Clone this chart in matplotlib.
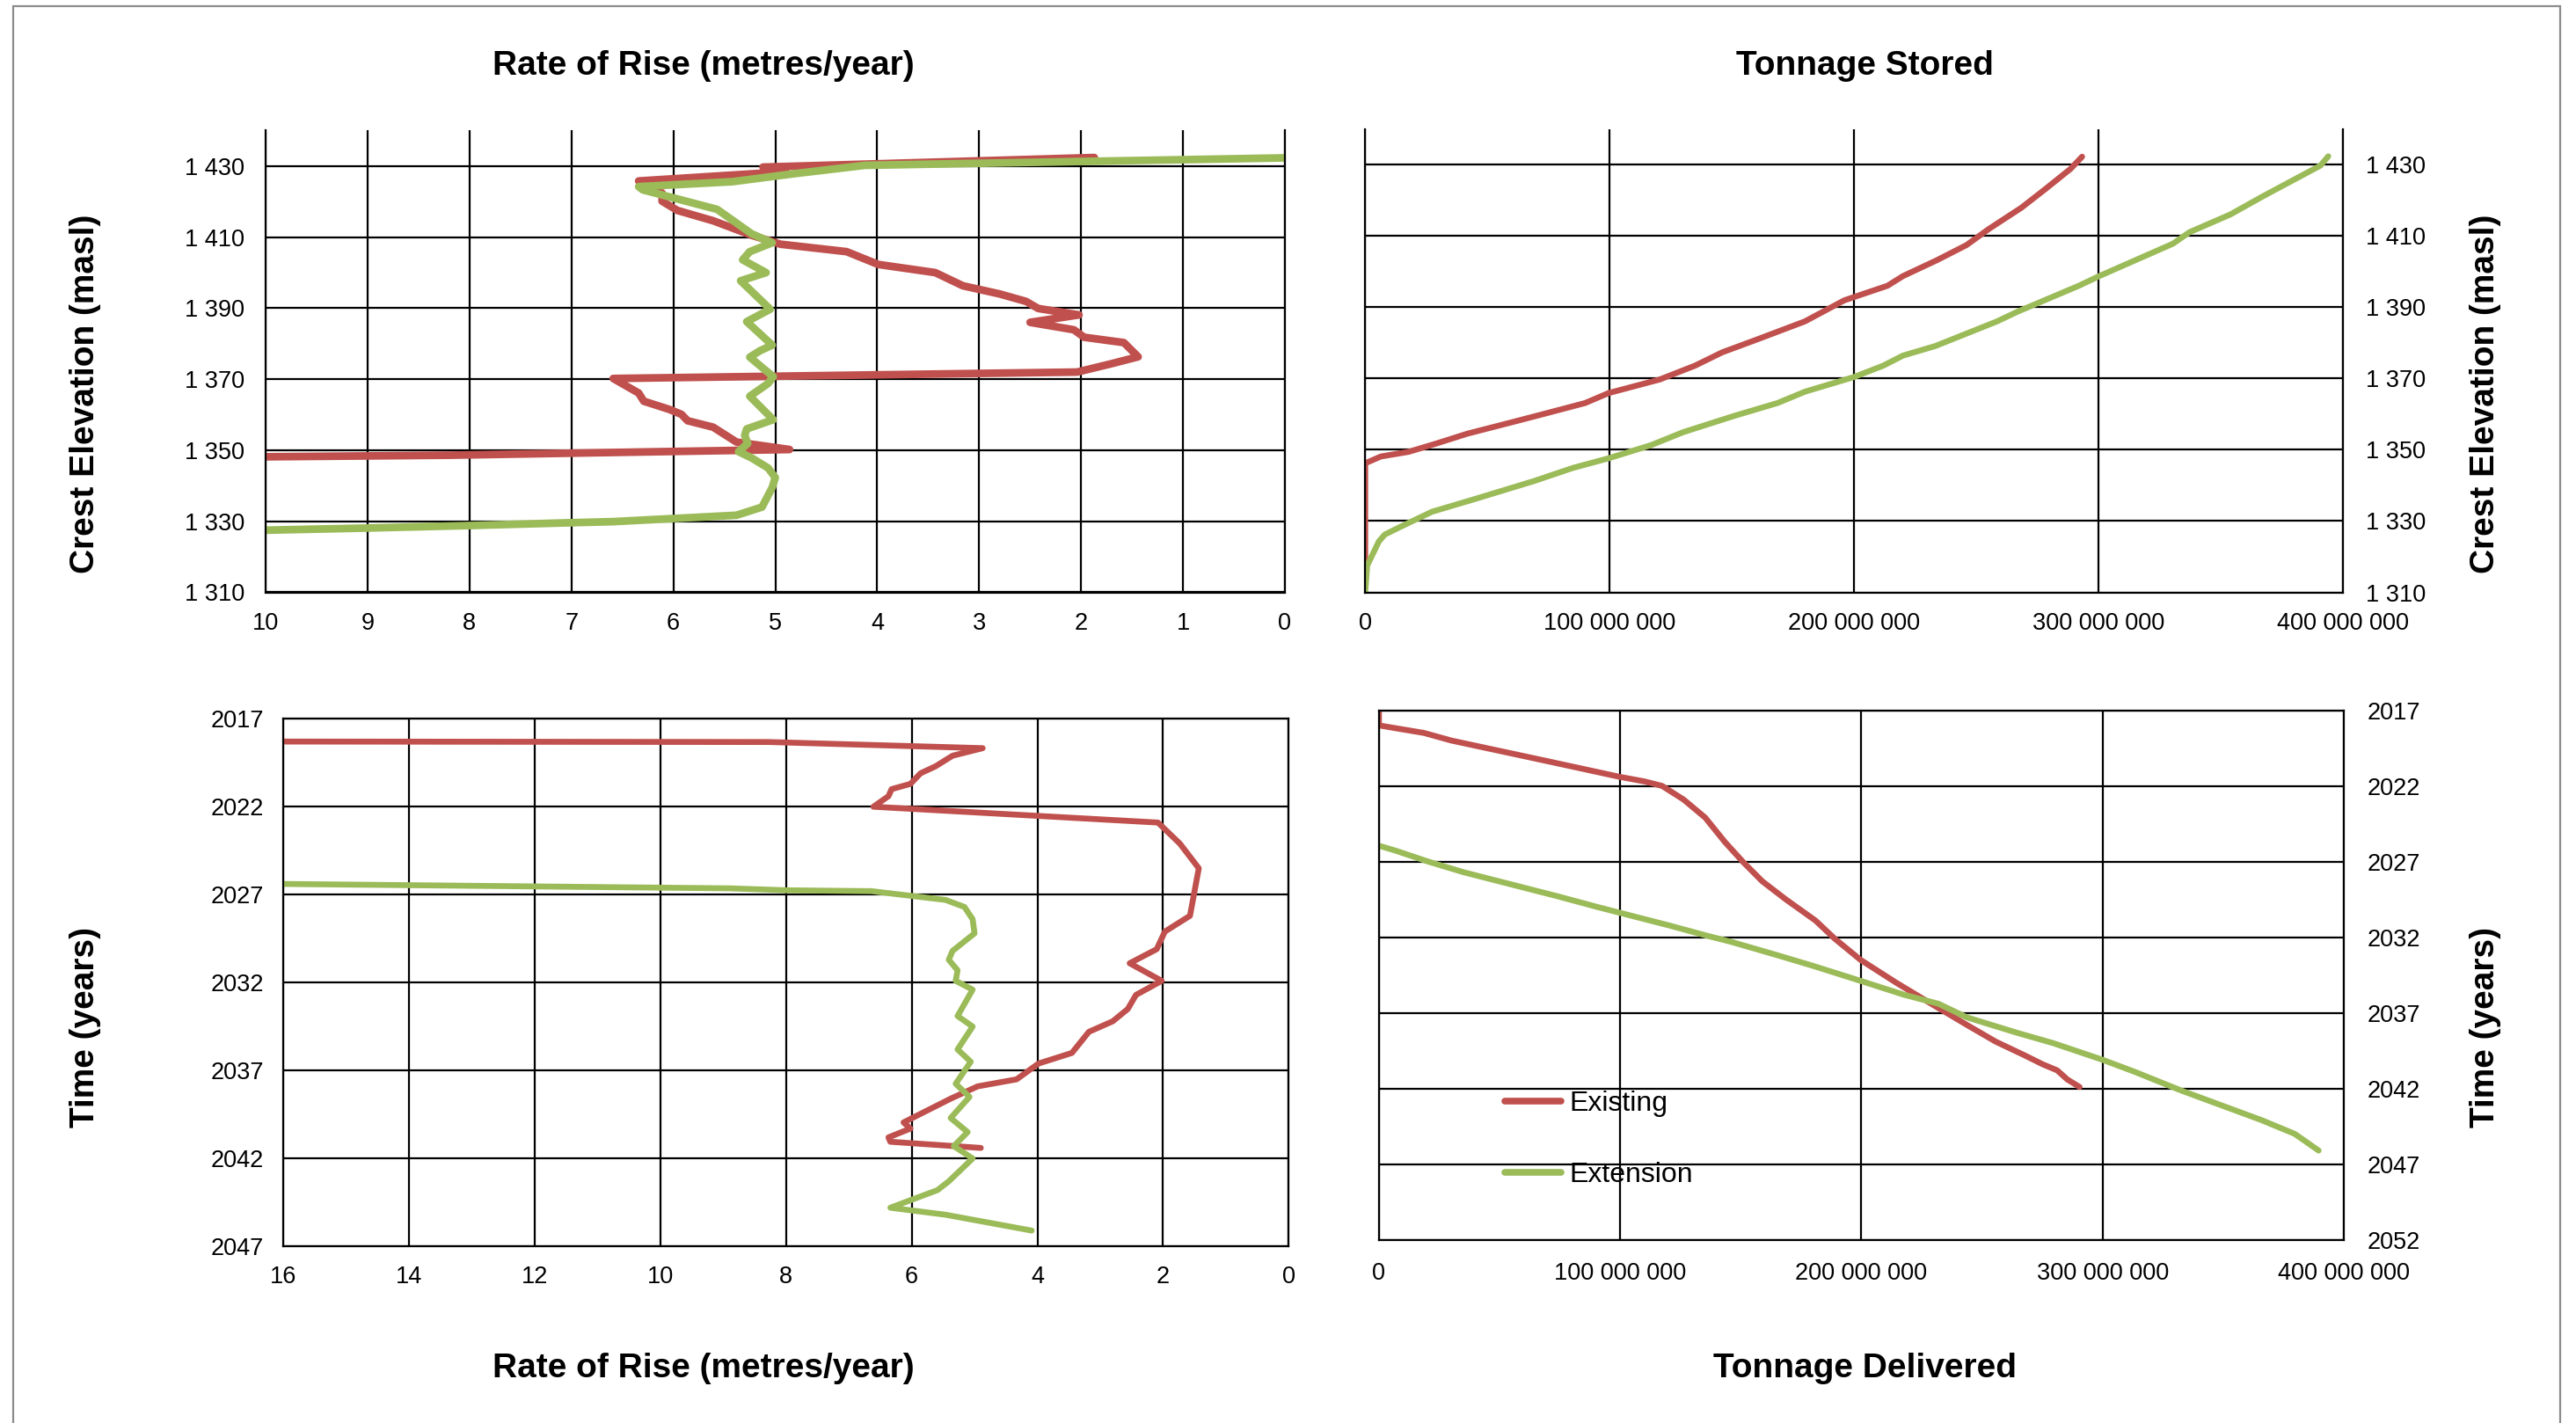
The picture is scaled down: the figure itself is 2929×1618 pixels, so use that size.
import matplotlib
matplotlib.use("Agg")
import matplotlib.pyplot as plt
from matplotlib.ticker import FuncFormatter, FixedLocator
from matplotlib.patches import Rectangle

plt.rcParams['font.family'] = ['Liberation Sans', 'DejaVu Sans']

# ---------------- data ----------------
series_names = ["Existing", "Extension"]

# Rate of rise (m/yr) vs crest elevation (masl)
rr_elev_existing_rate = [11.0, 8.2, 4.86, 5.38, 5.61, 5.86, 5.92, 6.04, 6.29, 6.34, 6.59,
                         2.04, 1.71, 1.44, 1.58, 1.97, 2.07, 2.50, 2.02, 2.42, 2.54, 2.80,
                         3.16, 3.43, 3.99, 4.30, 4.95, 5.23, 5.61, 5.96, 6.11, 6.11, 6.34,
                         4.90, 5.12, 1.87]
rr_elev_existing_elev = [1347.9, 1348.6, 1350.2, 1352.3, 1356.5, 1358.3, 1360.1, 1361.5,
                         1363.8, 1366.1, 1370.2, 1372.0, 1374.3, 1376.3, 1380.3, 1381.8,
                         1383.9, 1386.0, 1388.1, 1389.9, 1391.9, 1394.0, 1396.3, 1400.0,
                         1402.3, 1405.9, 1408.0, 1410.5, 1414.6, 1417.5, 1420.1, 1422.4,
                         1425.8, 1428.4, 1429.7, 1432.4]
rr_elev_extension_rate = [10.8, 9.0, 8.0, 7.0, 6.59, 5.38, 5.13, 5.03, 5.0, 5.07, 5.23, 5.36,
                          5.27, 5.30, 5.28, 5.02, 5.25, 5.07, 5.02, 5.25, 5.15, 5.03, 5.28,
                          5.05, 5.34, 5.09, 5.32, 5.25, 5.03, 5.23, 5.57, 6.30, 6.34, 5.42,
                          4.80, 4.12, 0.0]
rr_elev_extension_elev = [1327.0, 1328.1, 1328.8, 1329.6, 1329.9, 1331.7, 1334.0, 1339.5,
                          1342.3, 1345.0, 1347.8, 1349.6, 1351.9, 1354.2, 1356.0, 1358.6,
                          1365.2, 1368.8, 1370.7, 1376.2, 1378.0, 1379.6, 1386.2, 1389.7,
                          1397.7, 1400.0, 1403.6, 1405.9, 1408.4, 1410.9, 1417.8, 1423.3,
                          1424.2, 1425.6, 1427.9, 1430.2, 1432.3]

# Tonnage stored (t) vs crest elevation (masl)
ts_existing_tons = [0, 0, 6.4e6, 17.7e6, 28.9e6, 41.8e6, 59.4e6, 72.3e6, 90.0e6, 99.6e6,
                    120.5e6, 135.0e6, 146.0e6, 160.6e6, 179.9e6, 196.0e6, 213.7e6, 220.0e6,
                    234.0e6, 246.0e6, 255.1e6, 268.5e6, 278.6e6, 288.6e6, 293.3e6]
ts_existing_elev = [1319.0, 1346.2, 1348.1, 1349.4, 1351.7, 1354.5, 1357.6, 1359.9, 1363.1,
                    1365.9, 1369.7, 1373.6, 1377.3, 1381.0, 1386.0, 1391.9, 1396.0, 1398.7,
                    1403.2, 1407.4, 1411.9, 1417.9, 1423.3, 1428.8, 1432.2]
ts_extension_tons = [0, 0.8e6, 5.6e6, 8.0e6, 14.5e6, 27.3e6, 45.0e6, 69.0e6, 85.0e6, 99.6e6,
                     117.0e6, 130.0e6, 151.0e6, 168.7e6, 180.0e6, 200.0e6, 212.0e6, 220.0e6,
                     233.3e6, 258.5e6, 266.8e6, 292.0e6, 300.3e6, 330.5e6, 337.2e6, 354.0e6,
                     367.3e6, 390.8e6, 394.0e6]
ts_extension_elev = [1310.0, 1317.5, 1324.3, 1326.2, 1328.4, 1332.6, 1336.2, 1341.2, 1344.9,
                     1347.6, 1351.3, 1354.9, 1359.5, 1363.1, 1366.3, 1370.4, 1373.6, 1376.4,
                     1379.1, 1386.0, 1388.7, 1396.0, 1398.7, 1407.8, 1411.0, 1416.0, 1421.1,
                     1429.7, 1432.3]

# Rate of rise (m/yr) vs time (years)
rr_time_existing_rate = [20.0, 8.28, 4.87, 5.35, 5.62, 5.86, 6.02, 6.32, 6.37, 6.61, 2.08,
                         1.73, 1.43, 1.57, 1.97, 2.10, 2.53, 2.02, 2.43, 2.56, 2.80, 3.18,
                         3.45, 3.98, 4.33, 4.95, 5.38, 6.13, 6.02, 6.37, 6.34, 4.90]
rr_time_existing_year = [2018.28, 2018.32, 2018.67, 2019.1, 2019.7, 2020.1, 2020.7, 2021.0,
                         2021.4, 2022.0, 2022.9, 2024.1, 2025.5, 2028.2, 2029.1, 2030.1,
                         2030.9, 2031.9, 2032.7, 2033.5, 2034.2, 2034.8, 2036.0, 2036.6,
                         2037.5, 2037.9, 2038.6, 2039.95, 2040.3, 2040.8, 2041.05, 2041.4]
rr_time_extension_rate = [20.0, 8.9, 8.0, 6.64, 5.46, 5.16, 5.03, 5.0, 5.35, 5.41, 5.27, 5.30,
                          5.03, 5.27, 5.03, 5.27, 5.06, 5.30, 5.08, 5.38, 5.11, 5.33, 5.03,
                          5.41, 5.59, 6.34, 5.46, 4.09]
rr_time_extension_year = [2026.25, 2026.64, 2026.75, 2026.8, 2027.3, 2027.7, 2028.4, 2029.2,
                          2030.2, 2030.7, 2031.3, 2031.9, 2032.4, 2033.9, 2034.5, 2035.8,
                          2036.5, 2037.75, 2038.5, 2039.7, 2040.5, 2041.3, 2042.0, 2043.3,
                          2043.8, 2044.8, 2045.2, 2046.1]

# Tonnage delivered (t) vs time (years)
td_existing_tons = [0, 0, 18.7e6, 30.0e6, 70.9e6, 99.8e6, 110.0e6, 117.4e6, 126.3e6, 135.3e6,
                    143.4e6, 150.8e6, 158.9e6, 168.7e6, 181.0e6, 189.0e6, 199.7e6, 214.4e6,
                    229.0e6, 243.8e6, 255.7e6, 267.6e6, 275.2e6, 281.2e6, 285.4e6, 290.5e6]
td_existing_year = [2017.0, 2018.0, 2018.5, 2019.0, 2020.4, 2021.4, 2021.7, 2022.0, 2022.9,
                    2024.1, 2025.7, 2027.0, 2028.3, 2029.5, 2030.9, 2032.1, 2033.5, 2035.0,
                    2036.4, 2037.8, 2038.9, 2039.8, 2040.4, 2040.8, 2041.4, 2041.9]
td_extension_tons = [0, 7.3e6, 20.4e6, 35.0e6, 54.6e6, 74.2e6, 90.5e6, 110.0e6, 119.8e6,
                     136.0e6, 145.9e6, 165.4e6, 180.1e6, 200.0e6, 217.6e6, 232.0e6, 243.8e6,
                     264.2e6, 279.5e6, 300.0e6, 313.4e6, 332.1e6, 349.1e6, 366.1e6, 379.7e6,
                     389.6e6]
td_extension_year = [2025.95, 2026.3, 2027.0, 2027.7, 2028.5, 2029.3, 2030.0, 2030.8, 2031.2,
                     2031.9, 2032.3, 2033.2, 2033.9, 2034.9, 2035.8, 2036.4, 2037.3, 2038.3,
                     2039.0, 2040.1, 2040.9, 2042.1, 2043.1, 2044.1, 2045.0, 2046.1]

elev_ticks = [1310, 1330, 1350, 1370, 1390, 1410, 1430]
year_ticks_left = [2017, 2022, 2027, 2032, 2037, 2042, 2047]
year_ticks_right = [2017, 2022, 2027, 2032, 2037, 2042, 2047, 2052]
rate_ticks_top = list(range(0, 11))
rate_ticks_bottom = list(range(0, 17, 2))
ton_ticks = [0, 100e6, 200e6, 300e6, 400e6]

# ---------------- style ----------------
RED = '#C0504D'
GREEN = '#9BBB59'
W, H = 2929, 1618
TICK_FS = 19.5
BOLD_FS = 28

fig = plt.figure(figsize=(W / 100, H / 100), dpi=100)
fig.patch.set_facecolor('white')

def add_ax(l, t, r, b):
    return fig.add_axes([l / W, 1 - b / H, (r - l) / W, (b - t) / H])

space_fmt = FuncFormatter(lambda v, p: f"{int(round(v)):,}".replace(",", " "))
plain_fmt = FuncFormatter(lambda v, p: f"{int(round(v))}")

def style(ax, top_spine, right_labels, yfmt, pad_x=16, pad_y=17):
    ax.set_facecolor('white')
    for side in ['left', 'right', 'bottom', 'top']:
        ax.spines[side].set_color('black')
        ax.spines[side].set_linewidth(1.6)
    ax.spines['top'].set_visible(top_spine)
    ax.grid(True, color='black', linewidth=1.6)
    ax.set_axisbelow(True)
    ax.tick_params(length=0, labelsize=TICK_FS, colors='black')
    ax.tick_params(axis='x', pad=pad_x)
    ax.tick_params(axis='y', pad=pad_y)
    if right_labels:
        ax.yaxis.tick_right()
    ax.xaxis.set_major_formatter(space_fmt)
    ax.yaxis.set_major_formatter(yfmt)

line_kw = dict(solid_capstyle='round', solid_joinstyle='round')
LW_TL = 6.3
LW = 4.8

# Top-left: rate of rise vs elevation
ax1 = add_ax(302, 148.4, 1461, 673.5)
ax1.plot(rr_elev_existing_rate, rr_elev_existing_elev, color=RED, lw=LW_TL, **line_kw)
ax1.plot(rr_elev_extension_rate, rr_elev_extension_elev, color=GREEN, lw=LW_TL, **line_kw)
ax1.set_xlim(10, 0)
ax1.set_ylim(1310, 1440)
ax1.xaxis.set_major_locator(FixedLocator(rate_ticks_top))
ax1.yaxis.set_major_locator(FixedLocator(elev_ticks))
style(ax1, False, False, space_fmt)

# Top-right: tonnage stored vs elevation
ax2 = add_ax(1552.3, 146.5, 2664, 673.5)
ax2.plot(ts_existing_tons, ts_existing_elev, color=RED, lw=LW, **line_kw)
ax2.plot(ts_extension_tons, ts_extension_elev, color=GREEN, lw=LW, **line_kw)
ax2.set_xlim(0, 400e6)
ax2.set_ylim(1310, 1440)
ax2.xaxis.set_major_locator(FixedLocator(ton_ticks))
ax2.yaxis.set_major_locator(FixedLocator(elev_ticks))
style(ax2, False, True, space_fmt, pad_y=19)

# Bottom-left: rate of rise vs time
ax3 = add_ax(322.4, 817.3, 1465.2, 1417.2)
ax3.plot(rr_time_existing_rate, rr_time_existing_year, color=RED, lw=LW, **line_kw)
ax3.plot(rr_time_extension_rate, rr_time_extension_year, color=GREEN, lw=LW, **line_kw)
ax3.set_xlim(16, 0)
ax3.set_ylim(2047, 2017)
ax3.xaxis.set_major_locator(FixedLocator(rate_ticks_bottom))
ax3.yaxis.set_major_locator(FixedLocator(year_ticks_left))
style(ax3, True, False, plain_fmt, pad_x=16, pad_y=16)

# Bottom-right: tonnage delivered vs time
ax4 = add_ax(1567.9, 807.6, 2664.9, 1409.7)
h1, = ax4.plot(td_existing_tons, td_existing_year, color=RED, lw=LW, **line_kw)
h2, = ax4.plot(td_extension_tons, td_extension_year, color=GREEN, lw=LW, **line_kw)
ax4.set_xlim(0, 400e6)
ax4.set_ylim(2052, 2017)
ax4.xaxis.set_major_locator(FixedLocator(ton_ticks))
ax4.yaxis.set_major_locator(FixedLocator(year_ticks_right))
style(ax4, True, True, plain_fmt, pad_x=18, pad_y=19)

leg = ax4.legend([h1, h2], series_names, loc='upper left',
                 bbox_to_anchor=(1711 / W, 1 - 1240 / H), bbox_transform=fig.transFigure,
                 frameon=False, fontsize=23, handlelength=2.0, handletextpad=0.3,
                 labelspacing=1.6, borderpad=0, borderaxespad=0)
for ln in leg.get_lines():
    ln.set_linewidth(5.5)

# Titles / axis labels
def ftext(x, y, s, **kw):
    fig.text(x / W, 1 - y / H, s, ha='center', va='center', fontsize=BOLD_FS,
             fontweight='bold', color='black', **kw)

ftext(800, 75, "Rate of Rise (metres/year)")
ftext(2120, 75, "Tonnage Stored")
ftext(800, 1556, "Rate of Rise (metres/year)")
ftext(2120, 1556, "Tonnage Delivered")
ftext(97, 448, "Crest Elevation (masl)", rotation=90)
ftext(2826, 448, "Crest Elevation (masl)", rotation=90)
ftext(97, 1168, "Time (years)", rotation=90)
ftext(2826, 1168, "Time (years)", rotation=90)

# outer chart frame
fig.add_artist(Rectangle((15 / W, -0.05), (2911 - 15) / W, 1.05 - 7 / H,
                         transform=fig.transFigure, fill=False,
                         edgecolor='#8c8c8c', linewidth=1.6))

fig.savefig("out.png", dpi=100, facecolor='white')
